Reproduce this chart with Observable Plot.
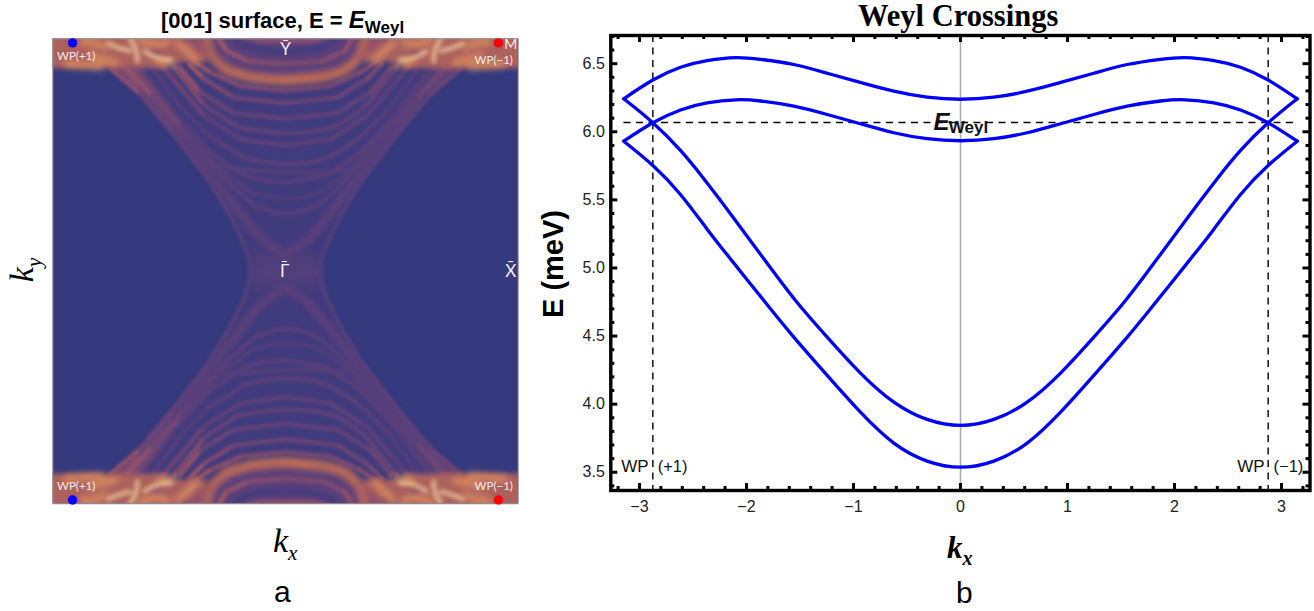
<!DOCTYPE html>
<html><head><meta charset="utf-8">
<script src="https://cdn.jsdelivr.net/npm/d3@7"></script>
<script src="https://cdn.jsdelivr.net/npm/@observablehq/plot@0.6"></script>
<style>
html,body{margin:0;padding:0;background:#fff}
#page{position:relative;width:1314px;height:611px;overflow:hidden;font-family:"Liberation Sans",sans-serif;color:#000}
#left,#right{position:absolute;top:0}
#left{left:0}#right{left:530px}
.t{position:absolute;white-space:nowrap;line-height:1}
.t sub{line-height:0}
</style></head><body>
<div id="page">
<div id="left"></div><div id="right"></div>
<div class="t" id="ttlA" style="left:161px;top:8px;font-size:22px;font-weight:bold">[001] surface, E = <i style="font-size:24px">E</i><sub style="font-size:17px">Weyl</sub></div>
<div class="t" id="ttlB" style="left:858px;top:1px;font-family:'Liberation Serif',serif;font-size:30.5px;font-weight:bold">Weyl Crossings</div>
<div class="t" style="left:273px;top:524px;font-family:'Liberation Serif',serif;font-style:italic;font-size:34px">k<sub style="font-size:21px">x</sub></div>
<div class="t" style="left:22px;top:270px;font-family:'Liberation Serif',serif;font-style:italic;font-size:34px;transform:translate(-50%,-50%) rotate(-90deg)">k<sub style="font-size:21px">y</sub></div>
<div class="t" style="left:553px;top:264px;font-size:29px;font-weight:bold;transform:translate(-50%,-50%) rotate(-90deg)">E (meV)</div>
<div class="t" style="left:947px;top:532px;font-family:'Liberation Serif',serif;font-style:italic;font-weight:bold;font-size:31px">k<sub style="font-size:20px">x</sub></div>
<div class="t" style="left:274px;top:577px;font-size:30px">a</div>
<div class="t" style="left:956px;top:578px;font-size:30px">b</div>
</div>
<script>
// ---------- Panel b: band curves (right half, mirrored to negative kx) ----------
const kxUpper = [0, 0.312, 0.623, 0.935, 1.246, 1.558, 1.869, 2.1, 2.368, 2.617, 2.875, 3.147];
const bandA   = [6.239, 6.254, 6.298, 6.362, 6.43, 6.494, 6.532, 6.545, 6.523, 6.474, 6.38, 6.242];
const bandB   = [5.934, 5.949, 5.993, 6.059, 6.127, 6.188, 6.226, 6.235, 6.212, 6.16, 6.066, 5.931];
const kxC   = [0, 0.312, 0.623, 0.935, 1.246, 1.542, 1.838, 2.15, 2.399, 2.617, 2.875, 3.147];
const bandC = [3.844, 3.888, 4.015, 4.228, 4.492, 4.761, 5.067, 5.398, 5.655, 5.863, 6.066, 6.242];
const kxD   = [0, 0.312, 0.623, 0.935, 1.246, 1.558, 1.838, 2.15, 2.368, 2.617, 2.875, 3.147];
const bandD = [3.537, 3.582, 3.714, 3.941, 4.211, 4.492, 4.761, 5.067, 5.285, 5.54, 5.753, 5.931];
const kWeyl = 2.875, eWeyl = 6.068, kEnd = 3.145;
const xMajor = [-3,-2,-1,0,1,2,3];
const xMinor = d3.range(-16,17).map(i=>i/5).filter(v=>!Number.isInteger(v));
const yMajor = [3.5,4,4.5,5,5.5,6,6.5];
const yMinor = d3.range(34,68).map(i=>i/10).filter(v=>Math.round(v*10)%5!==0);

// ---------- Panel a: spectral ridges as [kx, ky, intensity], one quadrant ----------
const ridgeOuter = [[0.47,0.0,.15],[0.47,0.1,.15],[0.55,0.35,.16],[0.74,0.75,.17],[1.05,1.26,.19],[1.51,1.86,.21],[1.96,2.4,.27],[2.36,2.74,.42]];
const ridgeV     = [[0,0.22,.18],[0.3,0.42,.19],[0.62,0.8,.19],[1.0,1.3,.19],[1.45,1.88,.2],[1.92,2.45,.22],[2.25,2.75,.34]];
const streak1 = [[1.0,1.42,.16],[1.5,2.0,.2],[1.95,2.5,.28],[2.18,2.75,.42]];
const arc078 = [[0,0.78,.17],[0.4,0.88,.17],[0.8,1.22,.18],[1.3,1.82,.21],[1.8,2.36,.27],[2.12,2.75,.42]];
const arc098 = [[0,0.98,.13],[0.45,1.06,.13],[0.9,1.4,.15],[1.4,1.98,.18],[2.03,2.75,.32]];
const arc120 = [[0,1.2,.17],[0.5,1.28,.18],[1.0,1.6,.18],[1.5,2.15,.16],[1.95,2.75,.18]];
const arc145 = [[0,1.45,.19],[0.55,1.53,.19],[1.05,1.85,.18],[1.4,2.2,.14],[1.8,2.75,.16]];
const arc170 = [[0,1.7,.2],[0.6,1.78,.21],[1.1,2.1,.2],[1.65,2.75,.28]];
const arc187 = [[0,1.87,.21],[0.65,1.95,.21],[1.1,2.25,.24],[1.5,2.75,.36]];
const arc206 = [[0,2.06,.22],[0.7,2.14,.23],[1.15,2.42,.27],[1.42,2.75,.42]];
const arc227 = [[0,2.27,.25],[0.7,2.35,.27],[1.1,2.6,.34],[1.3,2.8,.46]];
const arc245 = [[0,2.44,.3],[0.6,2.5,.32],[1.0,2.68,.38],[1.3,2.88,.46]];
const arcBright = [[0,2.58,.6],[0.45,2.62,.58],[0.8,2.72,.58],[1.0,2.9,.54],[1.08,3.2,.52]];
const arcUpper  = [[0,2.8,.33],[0.5,2.84,.36],[0.8,2.98,.42],[0.93,3.2,.46]];
const arcTop    = [[0,3.12,.4],[0.35,3.12,.4],[0.66,3.2,.4]];
const arcDark   = [[0,2.97],[0.4,3.0],[0.66,3.1]];
const waist = [{x1:-0.44,x2:0.44,y1:-0.24,y2:0.24,v:.13}];
// band along Brillouin zone edge: [kx1, kx2, ky1, ky2, intensity]
const edgeBand = [[1.6,3.4,2.74,3.4,.52],[1.05,1.7,2.82,3.4,.5],[0.95,1.2,2.94,3.4,.44]];
const streaksBright = [
  [[2.40,3.08],[2.25,3.02],[2.1,2.98]],
  [[2.1,3.14],[2.02,3.0],[2.0,2.84]],
  [[1.9,2.97],[1.72,2.88],[1.55,2.86]]
];
const streaksMid = [
  [[2.62,2.92],[2.45,2.86],[2.3,2.82]],
  [[1.45,3.08],[1.3,2.95],[1.2,2.85]],
  [[2.95,2.8],[2.7,2.78],[2.5,2.76]],
  [[2.75,3.1],[2.55,3.08],[2.45,3.0]],
  [[1.95,3.12],[1.75,3.06],[1.6,3.1]],
  [[1.7,2.82],[1.5,2.8]]
];
const darkBlobs = [[1.76,2.97],[2.86,3.12],[1.33,3.14],[2.5,2.97],[1.2,3.1]];
const colorStops = [0,.2,.4,.6,.8,1];
const colorRange = ["#353a7e","#5c407a","#8a4d6e","#c46e52","#ee9c5c","#fde4a8"];

const rowsOf = (list)=>list.flatMap((r,i)=>[1,-1].flatMap(sy=>{
  const path=[...r.slice().reverse().map(p=>[-p[0],p[1],p[2]]),...r.filter(p=>p[0]!==0)];
  return path.map(p=>({id:i+"_"+sy,kx:p[0],ky:sy*p[1],v:p[2]}));
}));
const segs = (list)=>list.flatMap((r,i)=>[1,-1].flatMap(a=>[1,-1].flatMap(b=>r.map(p=>({id:i+"_"+a+"_"+b,kx:a*p[0],ky:b*p[1]})))));
const mirrorPts = (pts)=>pts.flatMap(p=>[1,-1].flatMap(a=>[1,-1].map(b=>({kx:a*p[0],ky:b*p[1]}))));
const bandRows = edgeBand.flatMap(b=>[1,-1].flatMap(a=>[1,-1].map(c=>({
  x1:a*b[0],x2:a*b[1],y1:c*b[2],y2:c*b[3],v:b[4]}))));
const tint = [1,-1].flatMap(sy=>ridgeOuter.map(p=>({x1:-p[0],x2:p[0],y:sy*p[1],sy})));
const cap = [1,-1].flatMap(sy=>arcBright.map(p=>({x1:-p[0],x2:p[0],y:sy*p[1],sy})));
const PI=Math.PI;

const wide = rowsOf([ridgeV]);
const thin = rowsOf([ridgeOuter,streak1,arc078,arc098,arc120,arc145,arc170,arc187,arc206,arc227,arc245]);
const bright = rowsOf([arcBright]);
const dark = rowsOf([arcDark.map(p=>[p[0],p[1],0])]);
const lineOpt = {x:"kx",y:"ky",z:"id",curve:"catmull-rom",clip:true};

const left = Plot.plot({
  width:530,height:611,marginLeft:52.3,marginRight:12.3,marginTop:38.3,marginBottom:107.7,
  style:{background:"transparent",fontFamily:"Lato, 'Liberation Sans', sans-serif"},
  x:{domain:[-PI,PI],axis:null},y:{domain:[-PI,PI],axis:null},
  color:{type:"linear",domain:colorStops,range:colorRange,interpolate:"rgb"},
  marks:[
    Plot.frame({fill:colorRange[0]}),
    Plot.areaX(tint,{x1:"x1",x2:"x2",y:"y",z:"sy",fill:"#403b7d",curve:"catmull-rom",clip:true,imageFilter:"blur(2.5px)"}),
    Plot.rect(waist,{x1:"x1",x2:"x2",y1:"y1",y2:"y2",fill:"v",clip:true,imageFilter:"blur(4px)"}),
    Plot.line(wide,{...lineOpt,stroke:"v",strokeWidth:9,imageFilter:"blur(2.5px)"}),
    Plot.line(thin,{...lineOpt,stroke:"v",strokeWidth:4.5,imageFilter:"blur(1.7px)"}),
    Plot.rect(bandRows,{x1:"x1",x2:"x2",y1:"y1",y2:"y2",fill:"v",clip:true,imageFilter:"blur(2.5px)"}),
    Plot.areaX(cap,{x1:"x1",x2:"x2",y:"y",z:"sy",fill:colorRange[1],curve:"catmull-rom",clip:true,imageFilter:"blur(2.5px)"}),
    Plot.line(dark,{...lineOpt,stroke:"#453c7c",strokeWidth:7,imageFilter:"blur(2px)"}),
    Plot.line(rowsOf([arcUpper,arcTop]),{...lineOpt,stroke:"v",strokeWidth:5,imageFilter:"blur(1.8px)"}),
    Plot.line(bright,{...lineOpt,stroke:"v",strokeWidth:10,imageFilter:"blur(3px)"}),
    Plot.dot(mirrorPts(darkBlobs),{x:"kx",y:"ky",r:5,fill:colorRange[2],fillOpacity:.8,clip:true,imageFilter:"blur(2.5px)"}),
    Plot.line(segs(streaksMid),{...lineOpt,stroke:colorRange[4],strokeOpacity:.65,strokeWidth:7,imageFilter:"blur(3px)"}),
    Plot.line(segs(streaksBright),{...lineOpt,stroke:colorRange[5],strokeOpacity:.65,strokeWidth:4.5,imageFilter:"blur(2.2px)"}),
    Plot.frame({stroke:"#9a9a9a",strokeWidth:1}),
    Plot.dot([[-kWeyl,3.086],[-kWeyl,-3.09]],{x:"0",y:"1",r:4.7,fill:"#0000ff"}),
    Plot.dot([[kWeyl,3.086],[kWeyl,-3.09]],{x:"0",y:"1",r:4.7,fill:"#ff0000"}),
    Plot.text([[-3.085,2.9],[-3.085,-2.905]],{x:"0",y:"1",text:()=>"WP(+1)",textAnchor:"start",fill:"#f4ece8",fontSize:11.5}),
    Plot.text([[3.07,2.85],[3.07,-2.905]],{x:"0",y:"1",text:()=>"WP(\u22121)",textAnchor:"end",fill:"#f4ece8",fontSize:11.5}),
    Plot.text([[0,3.0,"Y\u0304"],[-0.01,0,"\u0393\u0304"],[3.04,0,"X\u0304"]],{x:"0",y:"1",text:"2",fill:"#f2eef4",fontSize:17}),
    Plot.text([[3.04,3.07,"M\u0304"]],{x:"0",y:"1",text:"2",fill:"#f2eef4",fontSize:14})
  ]
});
document.getElementById("left").append(left);

const mk = (xs,ys,name)=>{const r=[...xs].reverse().map((x,i)=>({x:-x,y:ys[xs.length-1-i],name}));
  return [...r,...xs.slice(1).map((x,i)=>({x,y:ys[i+1],name}))];};
const curves = [...mk(kxUpper,bandA,"A"),...mk(kxUpper,bandB,"B"),...mk(kxC,bandC,"C"),...mk(kxD,bandD,"D")];
const fH=455, fW=699.2;
const right = Plot.plot({
  width:784,height:611,marginLeft:80.3,marginRight:4.5,marginTop:35,marginBottom:121,
  style:{background:"transparent",fontFamily:"'Liberation Sans', sans-serif",fontSize:"15px",color:"#222"},
  x:{domain:[-3.268,3.266],label:null},y:{domain:[3.366,6.707],label:null},
  marks:[
    Plot.ruleX([0],{stroke:"#aaaaaa",strokeWidth:1.5}),
    Plot.ruleX([-kWeyl,kWeyl],{stroke:"#000",strokeWidth:1.4,strokeDasharray:"7,5.5"}),
    Plot.ruleY([eWeyl],{x1:-kEnd,x2:kEnd,stroke:"#000",strokeWidth:1.4,strokeDasharray:"7,5.5"}),
    Plot.line(curves,{x:"x",y:"y",z:"name",stroke:"#0000ff",strokeWidth:3.3,curve:"natural"}),
    Plot.ruleX(xMinor,{insetTop:fH-4,strokeWidth:3,stroke:"#000"}),
    Plot.ruleX(xMinor,{insetBottom:fH-4,strokeWidth:3,stroke:"#000"}),
    Plot.ruleX(xMajor,{insetTop:fH-7,strokeWidth:3,stroke:"#000"}),
    Plot.ruleX(xMajor,{insetBottom:fH-7,strokeWidth:3,stroke:"#000"}),
    Plot.ruleY(yMinor,{insetRight:fW-4,strokeWidth:3,stroke:"#000"}),
    Plot.ruleY(yMinor,{insetLeft:fW-4,strokeWidth:3,stroke:"#000"}),
    Plot.ruleY(yMajor,{insetRight:fW-7,strokeWidth:3,stroke:"#000"}),
    Plot.ruleY(yMajor,{insetLeft:fW-7,strokeWidth:3,stroke:"#000"}),
    Plot.frame({stroke:"#000",strokeWidth:3.4}),
    Plot.axisX(xMajor,{anchor:"bottom",tickSize:0,tickPadding:10,label:null,fontSize:16,fill:"#222"}),
    Plot.axisY(yMajor,{anchor:"left",tickSize:0,tickPadding:6,label:null,tickFormat:d3.format(".1f"),fontSize:16,fill:"#222"}),
    Plot.text([[-0.252,6.07]],{x:"0",y:"1",text:()=>"E",textAnchor:"start",fontSize:24,fontWeight:"bold",fontStyle:"italic",fill:"#111"}),
    Plot.text([[-0.11,6.03]],{x:"0",y:"1",text:()=>"Weyl",textAnchor:"start",fontSize:17,fontWeight:"bold",fill:"#111"}),
    Plot.text([[-3.17,3.54]],{x:"0",y:"1",text:()=>"WP",textAnchor:"start",fontSize:17,fill:"#111"}),
    Plot.text([[-2.83,3.54]],{x:"0",y:"1",text:()=>"(+1)",textAnchor:"start",fontSize:16.5,fill:"#111"}),
    Plot.text([[2.586,3.54]],{x:"0",y:"1",text:()=>"WP",textAnchor:"start",fontSize:17,fill:"#111"}),
    Plot.text([[2.925,3.54]],{x:"0",y:"1",text:()=>"(\u22121)",textAnchor:"start",fontSize:16.5,fill:"#111"})
  ]
});
document.getElementById("right").append(right);
</script>
</body></html>
